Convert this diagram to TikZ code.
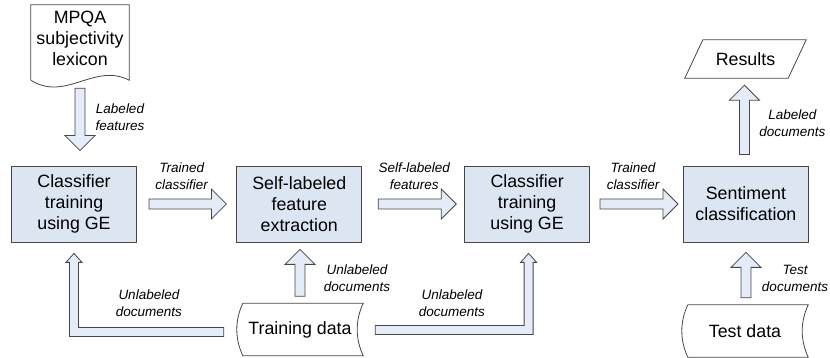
\documentclass[tikz,border=0pt]{standalone}
\usepackage{fontspec}
\setmainfont{Liberation Sans}
\usetikzlibrary{positioning,calc}
\definecolor{boxfill}{RGB}{220,230,242}
\definecolor{arrfill}{RGB}{228,236,247}
\definecolor{edgegray}{RGB}{70,70,70}
\newcommand{\boxfont}{\fontsize{17.8}{21}\selectfont}
\newcommand{\lblfont}{\fontsize{13.5}{17}\selectfont\itshape}
\tikzset{proc/.style={draw=edgegray,line width=0.8pt,fill=boxfill,minimum width=125pt,minimum height=76pt,inner sep=2pt,align=center,font=\boxfont},
         datanode/.style={minimum width=126pt,minimum height=52pt,inner sep=2pt,align=center,font=\boxfont},
         lbl/.style={align=center,font=\lblfont,inner sep=0pt},
         edge/.style={draw=edgegray,line width=0.8pt}
}
\tikzstyle{barrow} = [draw=edgegray,line width=0.8pt,fill=arrfill,line join=miter]
\newcommand{\blockarrow}[2]{%
  \coordinate (ah) at ($(#2)!15pt!(#1)$);
  \filldraw[barrow] ($(#1)!5pt!90:(#2)$) -- ($(ah)!5pt!90:(#2)$) -- ($(ah)!15pt!90:(#2)$) -- (#2)
    -- ($(ah)!15pt!-90:(#2)$) -- ($(ah)!5pt!-90:(#2)$) -- ($(#1)!5pt!-90:(#2)$) -- cycle;}
\newcommand{\elbowarrow}[3]{%
  \pgfmathsetmacro{\ko}{#3*4.5}\pgfmathsetmacro{\ki}{-#3*4.5}%
  \pgfmathsetmacro{\ho}{#3*8}\pgfmathsetmacro{\hi}{-#3*8}%
  \filldraw[barrow] ($(#1)+(0,-4.5)$) -- ($(#2|-#1)+(\ki,-4.5)$) -- ($(#2)+(\ki,-9)$) -- ($(#2)+(\hi,-9)$) -- (#2)
    -- ($(#2)+(\ho,-9)$) -- ($(#2)+(\ko,-9)$) -- ($(#2|-#1)+(\ko,4.5)$) -- ($(#1)+(0,4.5)$) -- cycle;}

\begin{document}
\begin{tikzpicture}[x=1pt,y=1pt]
\useasboundingbox (0,0) rectangle (830,358);

\node[proc] (b1) at (74,154) {Classifier\\training\\using GE};
\node[proc,right=99.5pt of b1] (b2) {Self-labeled\\feature\\extraction};
\node[proc,right=102pt of b2] (b3) {Classifier\\training\\using GE};
\node[proc,right=93pt of b3] (b4) {Sentiment\\classification};

\node[datanode,minimum width=98pt,minimum height=66pt] (lex) at (80,320) {MPQA\\subjectivity\\lexicon};
\draw[edge] ($(lex.south west)+(0,-9)$) -- (lex.north west) -- (lex.north east) -- ($(lex.south east)+(0,-9)$)
  .. controls +(-35,18) and +(35,-22) .. ($(lex.south west)+(0,-9)$);

\node[datanode,minimum width=103pt,minimum height=38pt] (res) at (745.5,299) {Results};
\draw[edge] ($(res.south west)+(-9,0)$) -- ($(res.north west)+(9,0)$) -- ($(res.north east)+(9,0)$) -- ($(res.south east)+(-9,0)$) -- cycle;

\node[datanode] (td) at (300,28.5) {Training data};
\node[datanode] (tst) at (745,27) {Test data};
\foreach \d in {td,tst}{
  \draw[edge] ($(\d.north west)+(6,0)$) -- (\d.north east) .. controls +(-8,-17) and +(-8,17) .. (\d.south east)
    -- ($(\d.south west)+(6,0)$) .. controls +(-8,17) and +(-8,-17) .. ($(\d.north west)+(6,0)$);
}

\coordinate (a0s) at ($(lex.south)+(0,-17)$);
\coordinate (a0e) at ($(a0s|-b1.north)+(0,15)$);
\blockarrow{a0s}{a0e}
\node[lbl] (l0) at ($($(a0s)!0.5!(a0e)$)+(40,2)$) {Labeled\\features};

\coordinate (h1s) at ($(b1.east)+(12,0)$);
\coordinate (h1e) at ($(b2.west)+(-10,0)$);
\coordinate (h2s) at ($(b2.east)+(16,0)$);
\coordinate (h2e) at ($(b3.west)+(-8,0)$);
\coordinate (h3s) at ($(b3.east)+(10,0)$);
\coordinate (h3e) at ($(b4.west)+(-5,0)$);
\blockarrow{h1s}{h1e}
\blockarrow{h2s}{h2e}
\blockarrow{h3s}{h3e}
\node[lbl] (l1) at ($($(h1s)!0.5!(h1e)$)+(-6,27.5)$) {Trained\\classifier};
\node[lbl] (l2) at ($($(h2s)!0.5!(h2e)$)+(-3,27.5)$) {Self-labeled\\features};
\node[lbl] (l3) at ($($(h3s)!0.5!(h3e)$)+(-6,27.5)$) {Trained\\classifier};

\coordinate (rs) at ($(b4.north)+(-1.5,11)$);
\coordinate (re) at ($(rs|-res.south)+(0,-7)$);
\blockarrow{rs}{re}
\node[lbl] (l4) at ($($(rs)!0.5!(re)$)+(48,-3.5)$) {Labeled\\documents};

\coordinate (us) at ($(td.north)+(0,7)$);
\coordinate (ue) at ($(us|-b2.south)+(0,-7)$);
\blockarrow{us}{ue}
\node[lbl] (l5) at ($($(us)!0.5!(ue)$)+(57,-5.5)$) {Unlabeled\\documents};

\coordinate (ts) at ($(tst.north)+(1,7)$);
\coordinate (te) at ($(ts|-b4.south)+(0,-10)$);
\blockarrow{ts}{te}
\node[lbl] (l6) at ($($(ts)!0.5!(te)$)+(49,-3.5)$) {Test\\documents};

\coordinate (ls) at ($(td.west)+(-13,-2.5)$);
\coordinate (lt) at ($(b1.south)+(0,-11)$);
\elbowarrow{ls}{lt}{1}
\node[lbl] (l7) at ($($(ls)!0.5!(lt|-ls)$)+(0,28.5)$) {Unlabeled\\documents};

\coordinate (rs2) at ($(td.east)+(12,-0.5)$);
\coordinate (rt2) at ($(b3.south)+(1.5,-11)$);
\elbowarrow{rs2}{rt2}{-1}
\node[lbl] (l8) at ($($(rs2)!0.5!(rt2|-rs2)$)+(0,26.5)$) {Unlabeled\\documents};

\end{tikzpicture}
\end{document}
